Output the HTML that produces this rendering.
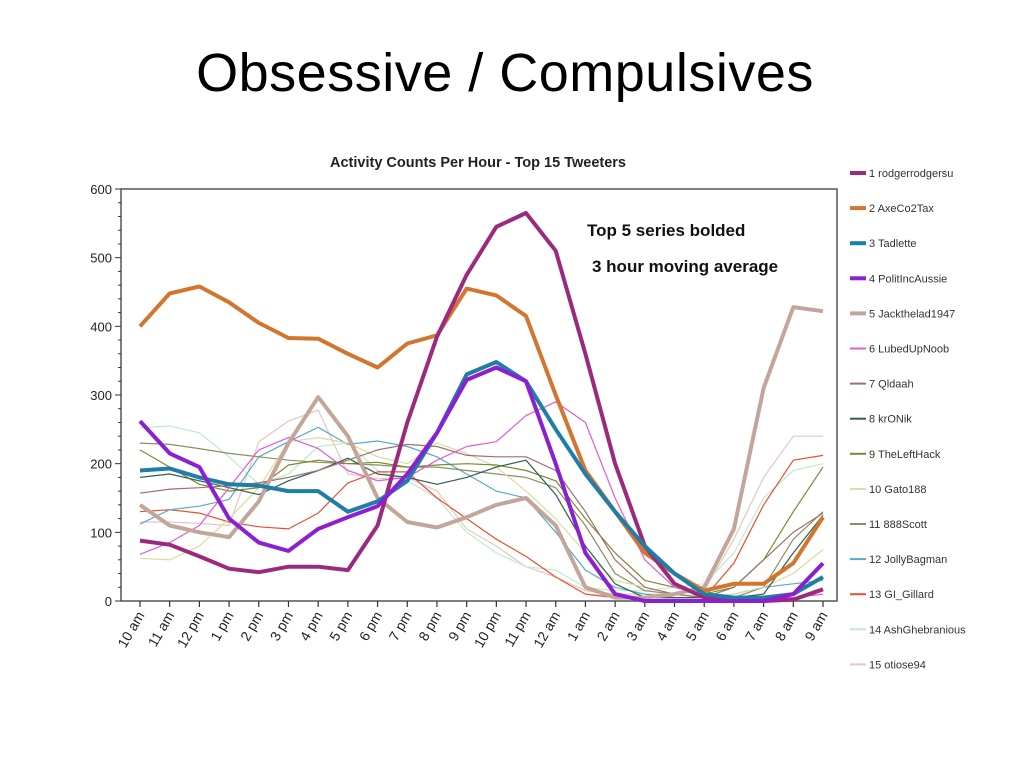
<!DOCTYPE html>
<html><head><meta charset="utf-8">
<style>
html,body{margin:0;padding:0;background:#fff;}
#wrap{position:relative;width:1024px;height:768px;overflow:hidden;font-family:"Liberation Sans",sans-serif;}
#slide-title{position:absolute;left:0;width:1010px;top:42px;text-align:center;font-size:54px;letter-spacing:0.5px;color:#000;}
svg{position:absolute;left:0;top:0;}
</style></head>
<body>
<div id="wrap">
<div id="slide-title">Obsessive / Compulsives</div>
<svg id="chart" width="1024" height="768"></svg>
</div>
<script>
const categories=["10 am","11 am","12 pm","1 pm","2 pm","3 pm","4 pm","5 pm","6 pm","7 pm","8 pm","9 pm","10 pm","11 pm","12 am","1 am","2 am","3 am","4 am","5 am","6 am","7 am","8 am","9 am"];
const yTicks=[0,100,200,300,400,500,600];
const seriesNames=["1 rodgerrodgersu","2 AxeCo2Tax","3 Tadlette","4 PolitIncAussie","5 Jackthelad1947","6 LubedUpNoob","7 Qldaah","8 krONik","9 TheLeftHack","10 Gato188","11 888Scott","12 JollyBagman","13 GI_Gillard","14 AshGhebranious","15 otiose94"];
const seriesColors=["#9b2a7f","#d4752e","#1f7ea8","#8b1fd1","#c4a59a","#e35ad8","#a0706a","#2e6050","#7a8a30","#d8dca0","#8a9060","#5aaac8","#e8502e","#c0ead0","#e3c8c0"];
const seriesWidths=[4,4,4,4,4,1.2,1.2,1.2,1.2,1.2,1.2,1.2,1.2,1.2,1.2];
const s1=[88,82,65,47,42,50,50,45,110,260,385,475,545,565,510,360,200,80,25,5,2,0,2,17];
const s2=[400,448,458,435,405,383,382,360,340,375,387,455,445,415,300,190,130,70,40,15,25,25,55,122];
const s3=[190,193,180,170,168,160,160,130,145,175,245,330,348,320,250,185,130,80,40,10,5,5,10,35];
const s4=[262,215,195,120,85,73,105,122,138,185,245,322,340,320,200,70,10,0,0,0,0,0,10,55];
const s5=[140,110,100,93,145,230,297,240,150,115,107,122,140,150,110,20,5,5,10,20,105,310,428,422];
const s6=[68,85,110,165,220,238,222,190,175,180,205,225,232,270,290,260,150,60,20,10,5,5,5,10];
const s7=[157,163,165,168,172,180,190,205,220,228,225,212,210,210,190,130,60,20,10,5,20,60,100,128];
const s8=[180,185,175,165,155,175,190,208,185,180,170,180,195,205,155,80,25,5,5,5,5,10,70,125];
const s9=[220,195,170,160,165,198,205,200,202,195,198,200,198,190,175,120,70,30,20,10,20,60,130,195];
const s10=[62,60,80,120,165,232,238,230,210,200,230,215,195,160,120,70,30,20,10,5,10,20,40,75];
const s11=[230,228,222,215,210,205,202,200,198,195,195,190,185,180,165,110,40,15,10,5,5,20,90,130];
const s12=[112,133,138,148,210,232,253,228,233,225,210,185,160,150,100,45,20,10,5,5,10,20,25,30];
const s13=[130,133,128,115,108,105,128,172,188,188,150,120,90,65,35,10,5,5,5,5,55,140,205,212];
const s14=[252,255,245,210,170,185,225,230,190,175,150,100,70,50,45,20,15,15,20,25,70,150,190,200];
const s15=[115,115,113,110,232,262,278,185,178,180,160,105,80,50,35,15,10,10,10,15,90,180,240,240];
const seriesData=[s1,s2,s3,s4,s5,s6,s7,s8,s9,s10,s11,s12,s13,s14,s15];

const NS="http://www.w3.org/2000/svg";
const svg=document.getElementById('chart');
const L=121,R=837,T=189,B=601,X0=140,X1=823;
const xs=i=>X0+(X1-X0)*i/(categories.length-1);
const ys=v=>B-(B-T)*v/600;
function mk(tag,attrs,parent){const e=document.createElementNS(NS,tag);for(const k in attrs)e.setAttribute(k,attrs[k]);(parent||svg).appendChild(e);return e;}

let t=mk('text',{x:478,y:167,'text-anchor':'middle','font-size':'14.5','font-weight':'bold',fill:'#222'});
t.textContent="Activity Counts Per Hour - Top 15 Tweeters";



let box=mk('rect',{x:L,y:T,width:R-L,height:B-T,fill:'none',stroke:'#555','stroke-width':1.5});



for(let v=0;v<=600;v+=20){mk('line',{x1:L-(v%100===0?6:3),x2:L,y1:ys(v),y2:ys(v),stroke:'#333','stroke-width':1});}
yTicks.forEach(v=>{
  const e=mk('text',{x:L-9,y:ys(v)+5,'text-anchor':'end','font-size':'13',fill:'#222'});
  e.textContent=v;
  
  
});
categories.forEach((c,i)=>{
  mk('line',{x1:xs(i),x2:xs(i),y1:B,y2:B+6,stroke:'#333','stroke-width':1.2});
  const e=mk('text',{x:xs(i)+5,y:B+14,'text-anchor':'end','font-size':'14',fill:'#222',transform:`rotate(-60 ${xs(i)+5} ${B+14})`});
  e.textContent=c;
  
  
});

const order=[14,13,12,11,10,9,8,7,6,5,4,1,0,2,3];
order.forEach(k=>{
  const d=seriesData[k].map((v,i)=>(i?'L':'M')+xs(i).toFixed(1)+','+ys(v).toFixed(1)).join(' ');
  const p=mk('path',{d:d,fill:'none',stroke:seriesColors[k],'stroke-width':seriesWidths[k],'stroke-linejoin':'round'});
  
  
});

let a1=mk('text',{x:587,y:236,'font-size':'17','font-weight':'bold',fill:'#111'});
a1.textContent="Top 5 series bolded";


let a2=mk('text',{x:592,y:272,'font-size':'17','font-weight':'bold',fill:'#111'});
a2.textContent="3 hour moving average";



seriesNames.forEach((n,k)=>{
  const y=173+k*35.1;
  const g=mk('g',{});
  
  
  mk('line',{x1:850,x2:866,y1:y,y2:y,stroke:seriesColors[k],'stroke-width':k<5?4:2},g);
  const e=mk('text',{x:869,y:y+4,'font-size':'11',fill:'#333'},g);
  e.textContent=n;
});
</script>
</body></html>
